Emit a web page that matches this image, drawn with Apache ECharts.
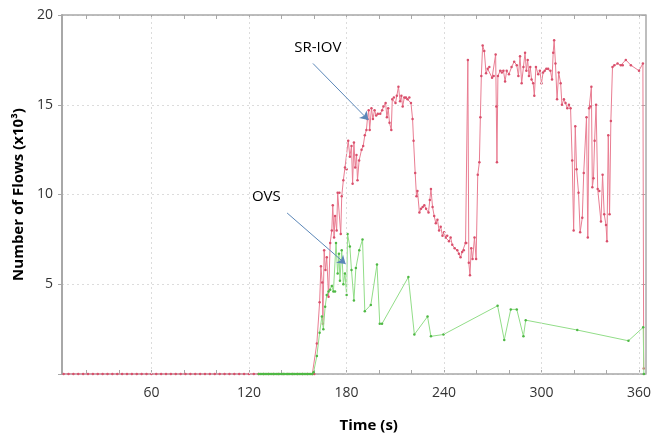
<!DOCTYPE html>
<html>
<head>
<meta charset="utf-8">
<script src="https://cdn.jsdelivr.net/npm/echarts@6/dist/echarts.min.js"></script>
<style>
  html, body { margin: 0; padding: 0; background: #fff; }
  #chart { width: 654px; height: 441px; }
</style>
</head>
<body>
<div id="chart"></div>
<script>
// SR-IOV flow count (x10^3) against time (s)
var srIovTime = [6, 9, 12, 15, 18, 21, 24, 27, 30, 33, 36, 39, 42, 45, 48, 51, 54, 57, 60, 63,
  66, 69, 72, 75, 78, 81, 84, 87, 90, 93, 96, 99, 102, 105, 108, 111, 114, 117, 120, 123,
  126, 129, 132, 135, 138, 141, 144, 147, 150, 153, 156, 159,
  160.2, 161.8, 163.5, 164.3, 165.1, 165.5, 166.3, 167.1, 167.9, 169.0, 170.0, 171.0, 171.6, 172.4,
  173.0, 174.0, 174.6, 175.7, 176.5, 177.1, 178.1, 179.1, 180.1, 181.1, 182.1, 183.1, 183.8, 184.6,
  185.4, 186.2, 186.8, 187.8, 189.3, 190.3, 191.3, 192.3, 192.9, 193.7, 194.3, 195.4, 196.3, 197.3,
  198.3, 199.3, 200.8, 202.0, 202.8, 204.1, 204.9, 205.7, 206.5, 207.6, 208.2, 209.2, 210.2, 211.0,
  212.0, 213.0, 213.8, 214.6, 215.6, 216.6, 217.6, 218.7, 219.7, 220.7, 221.3, 222.3, 223.1, 223.7,
  224.9, 225.9, 226.9, 227.9, 229.0, 230.5, 231.3, 232.0, 233.0, 234.0, 235.0, 236.0, 237.0, 238.0,
  239.1, 240.1, 241.0, 242.0, 243.1, 244.1, 245.1, 246.6, 248.2, 249.2, 250.2, 251.2, 252.2, 253.3,
  253.7, 254.7, 255.3, 256.0, 256.8, 257.6, 258.8, 259.8, 260.8, 261.8, 262.4, 263.0, 263.8, 264.8,
  265.9, 266.9, 267.9, 269.6, 270.6, 271.8, 272.2, 272.6, 273.2, 274.6, 275.6, 276.6, 277.6, 278.6,
  280.0, 281.6, 283.2, 284.8, 285.8, 286.8, 287.8, 288.9, 289.9, 290.7, 291.5, 292.3, 293.1, 293.9,
  294.9, 295.6, 296.6, 298.0, 299.0, 300.0, 301.0, 302.0, 303.0, 304.1, 305.5, 306.5, 307.2, 307.8,
  308.6, 309.6, 310.6, 311.8, 312.6, 313.8, 314.8, 315.9, 316.9, 317.9, 318.9, 319.8, 320.8, 321.6,
  322.8, 323.8, 325.1, 326.0, 327.7, 328.5, 329.3, 330.1, 330.7, 331.3, 332.0, 332.7, 333.6, 334.6,
  335.6, 336.6, 337.6, 338.6, 339.7, 340.3, 341.1, 341.9, 342.7, 343.7, 344.8, 346.8, 348.8, 350.0,
  351.9, 355.0, 360.0, 362.4, 362.9];
var srIovFlows = [0, 0, 0, 0, 0, 0, 0, 0, 0, 0, 0, 0, 0, 0, 0, 0, 0, 0, 0, 0,
  0, 0, 0, 0, 0, 0, 0, 0, 0, 0, 0, 0, 0, 0, 0, 0, 0, 0, 0, 0,
  0, 0, 0, 0, 0, 0, 0, 0, 0, 0, 0, 0,
  0, 1.7, 4.0, 6.0, 5.1, 2.8, 6.9, 5.8, 6.5, 4.3, 7.3, 8.0, 9.4, 7.6,
  8.8, 8.0, 10.1, 10.1, 7.8, 9.9, 10.8, 11.5, 11.4, 13.0, 12.1, 12.7, 10.6, 12.9,
  11.5, 12.2, 10.8, 11.9, 12.5, 12.7, 13.3, 13.6, 14.2, 14.7, 13.6, 14.8, 14.2, 14.7,
  14.4, 14.5, 14.5, 14.7, 14.9, 15.1, 14.3, 14.8, 14.0, 13.6, 15.3, 15.4, 15.1, 15.5,
  16.0, 15.2, 15.5, 14.9, 15.4, 15.4, 15.3, 15.4, 15.1, 14.2, 13.0, 11.2, 9.9, 10.2,
  9.0, 9.2, 9.3, 9.4, 9.2, 9.0, 9.7, 10.3, 9.3, 8.8, 8.4, 8.6, 8.0, 8.2,
  7.7, 7.9, 7.6, 7.7, 7.4, 7.6, 7.2, 7.0, 6.9, 6.7, 6.5, 6.8, 6.9, 7.3,
  7.3, 17.5, 6.2, 5.5, 7.0, 6.4, 7.6, 6.4, 11.1, 11.8, 14.3, 16.6, 18.3, 18.0,
  16.75, 17.0, 17.1, 16.5, 16.6, 17.8, 14.9, 11.8, 16.6, 16.9, 16.8, 16.9, 16.3, 16.9,
  16.7, 17.1, 17.4, 17.2, 16.6, 17.7, 16.2, 17.1, 17.9, 16.9, 17.5, 16.6, 17.1, 16.4,
  16.2, 15.5, 17.1, 16.7, 16.9, 16.2, 16.8, 16.9, 17.0, 17.0, 16.9, 16.4, 17.9, 18.6,
  17.3, 15.3, 16.8, 16.2, 15.0, 15.3, 15.1, 14.8, 15.0, 14.8, 11.9, 8.0, 13.8, 11.4,
  10.1, 7.9, 8.7, 11.2, 14.3, 7.6, 14.8, 14.9, 16.0, 10.4, 10.9, 13.0, 15.0, 10.3,
  10.2, 8.5, 11.1, 8.9, 8.3, 7.4, 13.3, 8.9, 14.1, 17.1, 17.2, 17.3, 17.2, 17.2,
  17.5, 17.2, 16.9, 17.3, 0.3];

// OVS flow count (x10^3) against time (s)
var ovsTime = [126, 127, 128, 129, 130, 131, 132, 133, 134, 135, 136, 137, 138, 139, 140, 141,
  142, 143, 144, 145, 146, 147, 148, 149, 150, 151, 152, 153, 154, 155, 156, 157, 158, 159,
  159.8, 161.8, 163.5, 164.9, 165.8, 166.9, 167.9, 169.0, 170.0, 171.0, 172.0, 173.0,
  173.6, 174.6, 175.4, 176.0, 177.1, 178.1, 179.1, 180.1, 180.7, 182.1, 183.1, 184.6,
  185.8, 187.9, 189.9, 191.3, 195.0, 198.8, 200.5, 201.9, 218.1, 221.8, 229.9, 232.0,
  239.7, 273.0, 277.1, 281.1, 284.8, 288.9, 290.3, 322.0, 353.5, 362.6, 363.0];
var ovsFlows = [0, 0, 0, 0, 0, 0, 0, 0, 0, 0, 0, 0, 0, 0, 0, 0,
  0, 0, 0, 0, 0, 0, 0, 0, 0, 0, 0, 0, 0, 0, 0, 0, 0, 0,
  0.1, 1.0, 2.3, 3.2, 2.5, 3.75, 4.4, 4.6, 4.7, 4.9, 4.6, 4.6,
  7.3, 5.6, 6.7, 5.2, 6.9, 5.0, 5.6, 4.4, 7.8, 7.1, 5.8, 4.1,
  5.9, 6.9, 7.5, 3.5, 3.85, 6.1, 2.8, 2.8, 5.4, 2.2, 3.2, 2.1,
  2.2, 3.8, 1.9, 3.6, 3.6, 2.1, 3.0, 2.45, 1.85, 2.6, 0];

var minorTicks = [20, 40, 60, 80, 100, 120, 140, 160, 180, 200, 220, 240, 260, 280, 300, 320, 340, 360];
var majorTicks = [60, 120, 180, 240, 300, 360];

function zip(xs, ys) {
  var out = [];
  for (var i = 0; i < xs.length; i++) out.push([xs[i], ys[i]]);
  return out;
}

var chart = echarts.init(document.getElementById('chart'));
var axisGrey = '#a8a8a8';
var gridGrey = '#dcdcdc';
var font = '"Open Sans", sans-serif';
var arrowStyle = { color: '#5b87b8', width: 1, type: 'solid' };

option = {
  animation: false,
  backgroundColor: '#fff',
  grid: { left: 62, right: 2, top: 15, bottom: 67 },
  xAxis: [{
      type: 'value', position: 'bottom', min: 5, max: 364,
      name: 'Time (s)', nameLocation: 'middle', nameGap: 44,
      nameTextStyle: { fontFamily: font, fontWeight: 'bold', fontSize: 15, color: '#000', padding: [0, 0, 0, 30] },
      axisLine: { onZero: false, lineStyle: { color: axisGrey, width: 1.5 } },
      axisTick: { inside: true, length: 4, customValues: minorTicks, lineStyle: { color: axisGrey } },
      axisLabel: { customValues: majorTicks, margin: 12, fontFamily: font, fontSize: 14, color: '#333' },
      splitLine: { show: false }
    }, {
      type: 'value', position: 'top', min: 5, max: 364,
      axisLine: { onZero: false, lineStyle: { color: axisGrey, width: 1.5 } },
      axisTick: { inside: true, length: 4, customValues: minorTicks, lineStyle: { color: axisGrey } },
      axisLabel: { show: false },
      splitLine: { show: false }
    }],
  yAxis: [{
      type: 'value', position: 'left', min: 0, max: 20, interval: 5,
      name: 'Number of Flows (x10³)', nameLocation: 'middle', nameGap: 36,
      nameTextStyle: { fontFamily: font, fontWeight: 'bold', fontSize: 15, color: '#000' },
      axisLine: { show: true, onZero: false, lineStyle: { color: axisGrey, width: 2 } },
      axisTick: { show: true, length: 4, lineStyle: { color: axisGrey } },
      axisLabel: {
        margin: 9, fontFamily: font, fontSize: 14, color: '#333',
        formatter: function (v) { return v === 0 ? '' : v; }
      },
      splitLine: { show: true, lineStyle: { color: gridGrey, type: [2, 3] } }
    }, {
      type: 'value', position: 'right', min: 0, max: 20, interval: 5,
      axisLine: { show: true, onZero: false, lineStyle: { color: axisGrey, width: 1.5 } },
      axisTick: { show: true, inside: true, length: 4, lineStyle: { color: axisGrey } },
      axisLabel: { show: false },
      splitLine: { show: false }
    }],
  series: [{
      // vertical grid lines, one per minute
      name: 'grid', type: 'line', xAxisIndex: 0, yAxisIndex: 0, data: [], z: 1,
      markLine: {
        silent: true, symbol: 'none', label: { show: false },
        lineStyle: { color: gridGrey, width: 1, type: [2, 3] },
        data: majorTicks.map(function (t) { return { xAxis: t }; })
      }
    }, {
      name: 'SR-IOV', type: 'line', xAxisIndex: 0, yAxisIndex: 0,
      data: zip(srIovTime, srIovFlows),
      symbol: 'circle', symbolSize: 2.5, showAllSymbol: true,
      lineStyle: { color: '#e97d92', width: 1 },
      itemStyle: { color: '#d9506c' },
      z: 2,
      markLine: {
        silent: true, symbol: ['none', 'arrow'], symbolSize: 8,
        label: { show: false }, lineStyle: arrowStyle,
        data: [[{ coord: [159.4, 17.3] }, { coord: [193.5, 14.15] }]]
      },
      markPoint: {
        silent: true, symbol: 'rect', symbolSize: 1, itemStyle: { color: 'rgba(0,0,0,0)' },
        label: { show: true, position: 'inside', fontFamily: font, fontSize: 15, color: '#000', formatter: '{b}' },
        data: [{ name: 'SR-IOV', coord: [162.4, 18.2] }]
      }
    }, {
      name: 'OVS', type: 'line', xAxisIndex: 0, yAxisIndex: 0,
      data: zip(ovsTime, ovsFlows),
      symbol: 'circle', symbolSize: 2.5, showAllSymbol: true,
      lineStyle: { color: '#92dd88', width: 1 },
      itemStyle: { color: '#4fb845' },
      z: 3,
      markLine: {
        silent: true, symbol: ['none', 'arrow'], symbolSize: 8,
        label: { show: false }, lineStyle: arrowStyle,
        data: [[{ coord: [143.5, 8.97] }, { coord: [179.5, 6.13] }]]
      },
      markPoint: {
        silent: true, symbol: 'rect', symbolSize: 1, itemStyle: { color: 'rgba(0,0,0,0)' },
        label: { show: true, position: 'inside', fontFamily: font, fontSize: 15, color: '#000', formatter: '{b}' },
        data: [{ name: 'OVS', coord: [130.7, 9.86] }]
      }
    }]
};
chart.setOption(option);
window.onresize = chart.resize;
</script>
</body>
</html>
